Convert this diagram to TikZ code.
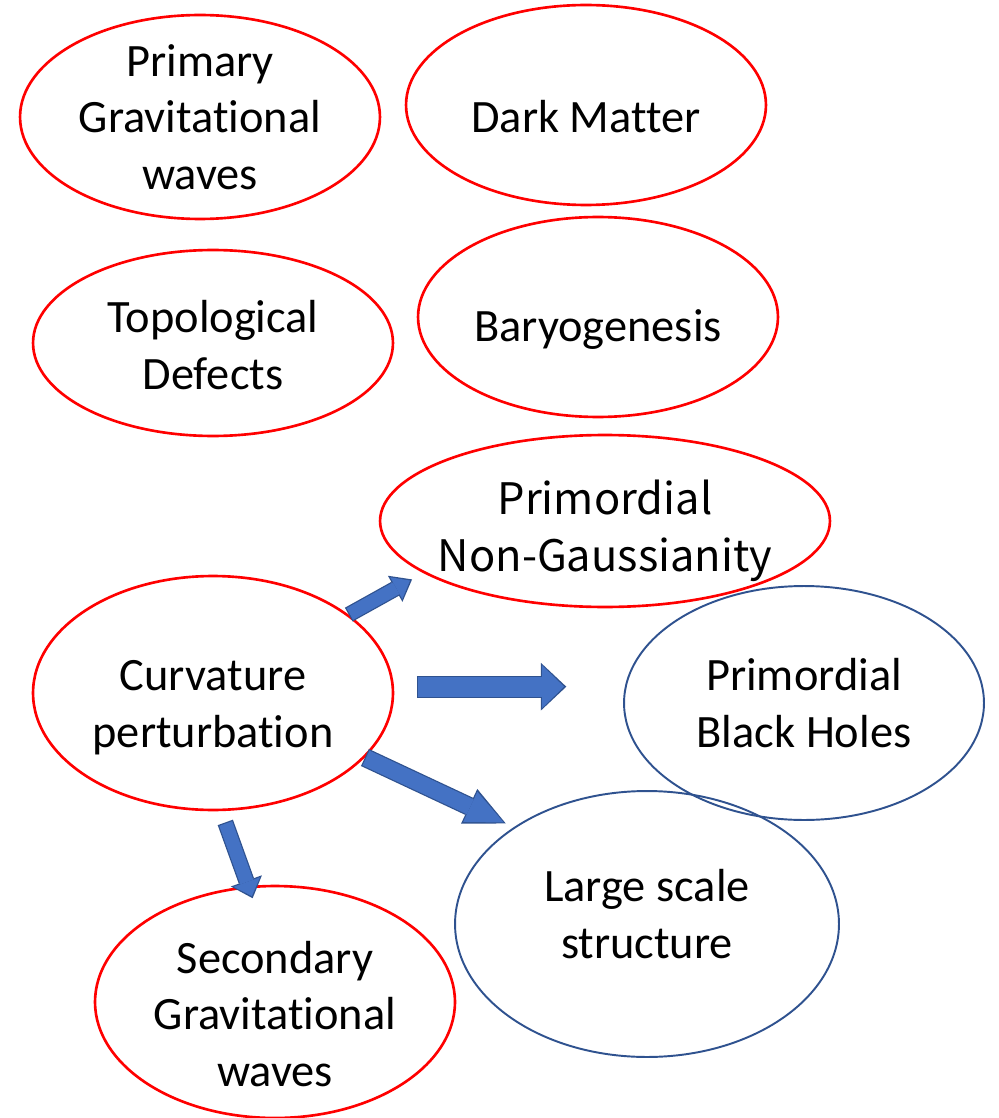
\documentclass[tikz,border=0pt]{standalone}
\usepackage{fontspec}
\setmainfont{Carlito}[Ligatures=NoCommon]
\newfontfamily\ngfont{Noto Sans CJK SC}
\usetikzlibrary{shapes.geometric,arrows.meta}
\definecolor{arrfill}{HTML}{4472C4}
\definecolor{arredge}{HTML}{2F528F}
\tikzset{
  bub/.style ={ellipse, draw, inner sep=0pt},
  hot/.style ={bub, draw=red, line width=1.5pt},
  cold/.style={bub, draw=arredge, line width=1.1pt},
  txt/.style ={align=center, inner sep=0pt, font=\fontsize{26.4}{32.3}\selectfont},
  % block arrow: shaft, head width, head length, start gap, end gap
  fat/.style n args={5}{draw=arredge, line width=#1+1.4pt,
    shorten <=#4, shorten >=#5,
    -{Triangle[length=#3+2pt, width=#2+2.8pt, line width=0pt]},
    postaction={draw=arrfill, line width=#1,
      shorten <=#4+0.7pt, shorten >=#5+1.3pt,
      -{Triangle[length=#3, width=#2, line width=0pt]}}}
}

\begin{document}
\begin{tikzpicture}[x=0.02cm, y=-0.02cm]
  \useasboundingbox (0,0) rectangle (999,1118);

  % upper block
  \node[hot, minimum width=7.2cm, minimum height=4.08cm] (pgw) at (200,117) {};
  \node[hot, minimum width=7.2cm, minimum height=4cm]    (dm)  at (586,105) {};
  \node[hot, minimum width=7.2cm, minimum height=3.72cm] (td)  at (213,343) {};
  \node[hot, minimum width=7.2cm, minimum height=4cm]    (bar) at (598,317) {};
  \node[txt] (pgwt) at (200,117) {Primary\\Gravitational\\waves};
  \node[txt] (dmt)  at (586,117) {Dark Matter};
  \node[txt] (tdt)  at (213,345) {Topological\\Defects};
  \node[txt] (bart) at (598,330) {Baryogenesis};

  % curvature and what comes out of it
  \node[hot,  minimum width=9cm,    minimum height=3.44cm] (ng)   at (605,521) {};
  \node[hot,  minimum width=7.2cm,  minimum height=4.68cm] (curv) at (213,693) {};
  \node[cold, minimum width=7.2cm,  minimum height=4.68cm] (pbh)  at (804,703) {};
  \node[cold, minimum width=7.68cm, minimum height=5.32cm] (lss)  at (647,924) {};
  \node[hot,  minimum width=7.2cm,  minimum height=4.64cm] (sgw)  at (275,1002) {};
  \node[txt, font=\ngfont\fontsize{24.7}{32.3}\selectfont] (ngt) at (605,531) {Primordial\\Non-Gaussianity};
  \node[txt] (curvt) at (213,708)  {Curvature\\perturbation};
  \node[txt] (pbht)  at (804,703)  {Primordial\\Black Holes};
  \node[txt] (lsst)  at (647,914)  {Large scale\\structure};
  \node[txt] (sgwt)  at (275,1014) {Secondary\\Gravitational\\waves};

  \draw[fat={7.6pt}{14.2pt}{9pt}{0pt}{7.4pt}]      (curv.30)  -- (ng.196);
  \draw[fat={11.3pt}{24.4pt}{12.5pt}{13pt}{32.3pt}] (curv.2)   -- (pbh.west |- curv.2);
  \draw[fat={9.3pt}{19pt}{21pt}{0pt}{5pt}]          (curv.-23) -- (lss.144);
  \draw[fat={7.8pt}{16pt}{8.5pt}{6.8pt}{-7.4pt}]    (curv.-86) -- (sgw.103);
\end{tikzpicture}
\end{document}
